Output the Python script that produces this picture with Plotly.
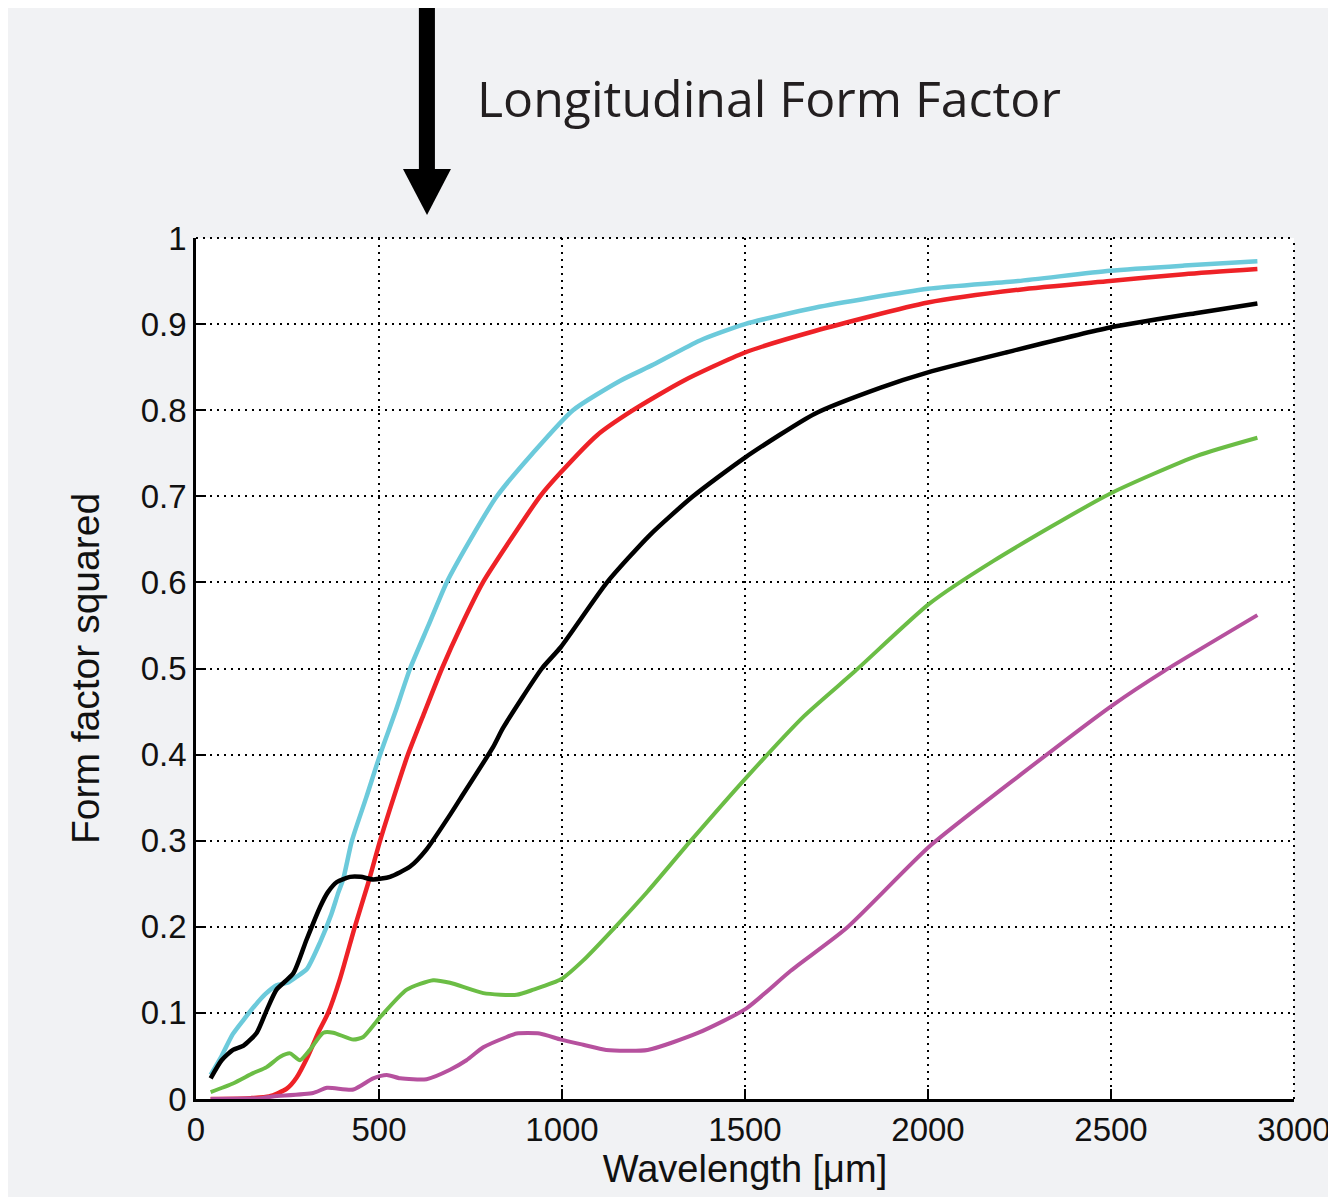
import plotly.graph_objects as go

# ---------------- data ----------------
wl_cyan = [40, 70, 100, 130, 160, 190, 220, 250, 275, 303, 339, 370, 389, 402, 426, 465, 503, 545, 585,
           635, 685, 750, 822, 920, 1030, 1158, 1250, 1377, 1500, 1691, 2000, 2246, 2497, 2700, 2900]
ff_cyan = [0.028, 0.05, 0.075, 0.092, 0.108, 0.122, 0.132, 0.135, 0.142, 0.151, 0.182, 0.215, 0.24, 0.255,
           0.30, 0.35, 0.40, 0.45, 0.50, 0.55, 0.60, 0.65, 0.70, 0.75, 0.80, 0.834, 0.853, 0.881, 0.90,
           0.919, 0.941, 0.95, 0.962, 0.968, 0.973]

wl_red = [40, 150, 200, 248, 275, 306, 335, 361, 393, 434, 470, 503, 540, 579, 625, 672, 725, 784, 860,
          940, 995, 1096, 1194, 1331, 1500, 1691, 2000, 2250, 2497, 2700, 2900]
ff_red = [0.0, 0.001, 0.003, 0.012, 0.025, 0.05, 0.078, 0.10, 0.139, 0.20, 0.25, 0.30, 0.35, 0.40, 0.45,
          0.50, 0.55, 0.60, 0.65, 0.70, 0.727, 0.771, 0.80, 0.834, 0.867, 0.892, 0.925, 0.94, 0.95,
          0.958, 0.964]

wl_black = [40, 70, 101, 130, 166, 193, 220, 266, 302, 339, 360, 385, 421, 450, 484, 530, 585, 630, 694,
            721, 812, 839, 945, 997, 1123, 1240, 1358, 1500, 1691, 1869, 2000, 2213, 2497, 2735, 2900]
ff_black = [0.024, 0.045, 0.057, 0.062, 0.077, 0.103, 0.127, 0.146, 0.185, 0.223, 0.24, 0.252, 0.258,
            0.258, 0.255, 0.258, 0.27, 0.29, 0.33, 0.348, 0.409, 0.431, 0.50, 0.525, 0.60, 0.655, 0.70,
            0.745, 0.796, 0.826, 0.844, 0.867, 0.896, 0.913, 0.924]

wl_green = [40, 101, 156, 193, 230, 257, 284, 311, 348, 375, 430, 457, 503, 576, 648, 694, 785, 876, 922,
            997, 1058, 1146, 1234, 1348, 1503, 1662, 1801, 2003, 2179, 2497, 2735, 2900]
ff_green = [0.008, 0.018, 0.03, 0.037, 0.049, 0.053, 0.045, 0.057, 0.077, 0.077, 0.069, 0.072, 0.095,
            0.127, 0.138, 0.135, 0.123, 0.121, 0.127, 0.139, 0.161, 0.20, 0.241, 0.298, 0.373, 0.445,
            0.497, 0.575, 0.625, 0.703, 0.747, 0.768]

wl_magenta = [40, 175, 210, 320, 358, 430, 484, 521, 558, 630, 694, 739, 785, 849, 876, 939, 997, 1058,
              1121, 1234, 1373, 1503, 1625, 1776, 2003, 2254, 2503, 2645, 2900]
ff_magenta = [0.0, 0.001, 0.003, 0.007, 0.013, 0.011, 0.024, 0.028, 0.024, 0.023, 0.034, 0.045, 0.06,
              0.072, 0.076, 0.076, 0.069, 0.063, 0.057, 0.057, 0.077, 0.105, 0.149, 0.198, 0.293, 0.377,
              0.457, 0.497, 0.562]

x_ticks = [0, 500, 1000, 1500, 2000, 2500, 3000]
x_ticktext = ["0", "500", "1000", "1500", "2000", "2500", "3000"]
y_ticks = [0, 0.1, 0.2, 0.3, 0.4, 0.5, 0.6, 0.7, 0.8, 0.9, 1.0]
y_ticktext = ["0", "0.1", "0.2", "0.3", "0.4", "0.5", "0.6", "0.7", "0.8", "0.9", "1"]

series = [
    ("cyan", wl_cyan, ff_cyan, "#6ccadb", 4.5),
    ("red", wl_red, ff_red, "#ee2227", 4.5),
    ("black", wl_black, ff_black, "#000000", 4.5),
    ("green", wl_green, ff_green, "#6bbd45", 4),
    ("magenta", wl_magenta, ff_magenta, "#b6519e", 4),
]

fig = go.Figure()
for name, xs, ys, col, w in series:
    fig.add_trace(go.Scatter(x=xs, y=ys, mode="lines", name=name,
                             line=dict(color=col, width=w, shape="spline", smoothing=0.6)))

tick_font = dict(family="Liberation Sans Narrow, Liberation Sans, Arial", size=33, color="#111111")
grid_dash = "2px,5px"

fig.update_layout(
    width=1320, height=1189,
    paper_bgcolor="#f1f2f4", plot_bgcolor="#ffffff",
    margin=dict(l=188, r=34, t=230, b=98, autoexpand=False),
    showlegend=False,
    xaxis=dict(range=[0, 3000], tickvals=x_ticks, ticktext=x_ticktext, tickfont=tick_font,
               ticklabeloverflow="allow", automargin=False,
               showgrid=True, gridcolor="#000000", gridwidth=2, griddash=grid_dash,
               showline=True, linecolor="#000000", linewidth=2.5, zeroline=False,
               ticks="inside", ticklen=10, tickwidth=2, tickcolor="#000000",
               title=dict(text="Wavelength [μm]", font=dict(family="Liberation Sans, Arial", size=38,
                                                            color="#111111"), standoff=4)),
    yaxis=dict(range=[0, 1], tickvals=y_ticks, ticktext=y_ticktext, tickfont=tick_font,
               ticklabeloverflow="allow", automargin=False,
               showgrid=True, gridcolor="#000000", gridwidth=2, griddash=grid_dash,
               showline=True, linecolor="#000000", linewidth=2.5, zeroline=False,
               ticks="inside", ticklen=10, tickwidth=2, tickcolor="#000000",
               title=dict(text="Form factor squared", font=dict(family="Liberation Sans, Arial", size=39,
                                                                color="#111111"), standoff=30)),
)

# dotted top and right frame
fig.add_shape(type="line", xref="paper", yref="paper", x0=0, x1=1, y0=1, y1=1,
              line=dict(color="#000000", width=2, dash=grid_dash))
fig.add_shape(type="line", xref="paper", yref="paper", x0=1, x1=1, y0=0, y1=1,
              line=dict(color="#000000", width=2, dash=grid_dash))

# arrow at top
fig.add_shape(type="rect", xref="paper", yref="paper",
              x0=0.2030, x1=0.2176, y0=1.075, y1=1.30,
              fillcolor="#000000", line=dict(width=0))
fig.add_shape(type="path", xref="paper", yref="paper",
              path="M 0.1885 1.0800 L 0.2322 1.0800 L 0.2104 1.0267 Z",
              fillcolor="#000000", line=dict(width=0))

fig.add_annotation(text="Longitudinal Form Factor", xref="paper", yref="paper",
                   x=0.2540, y=1.1630, xanchor="left", yanchor="middle", showarrow=False,
                   font=dict(family="Open Sans, DejaVu Sans", size=50, color="#231f20"))

fig.write_html("out.html")
